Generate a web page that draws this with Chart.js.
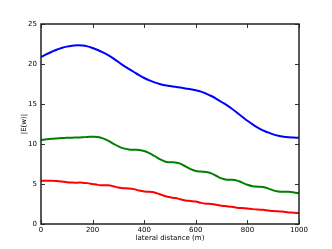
<!DOCTYPE html>
<html><head><meta charset="utf-8">
<script src="https://cdn.jsdelivr.net/npm/chart.js@4.4.0/dist/chart.umd.min.js"></script>
<style>html,body{margin:0;padding:0;background:#fff}#wrap{width:332px;height:249px}</style>
</head><body><div id="wrap"><canvas id="c" width="332" height="249"></canvas></div>
<script>
const distances = [0,20,40,60,80,100,120,140,160,180,200,220,240,260,280,300,320,340,360,380,400,420,440,460,480,500,520,540,560,580,600,620,640,660,680,700,720,740,760,780,800,820,840,860,880,900,920,940,960,980,1000];
const blueSeries = [20.85,21.2,21.5,21.78,22.0,22.17,22.28,22.33,22.3,22.2,22.0,21.75,21.45,21.1,20.7,20.25,19.8,19.4,19.0,18.6,18.25,17.95,17.7,17.5,17.35,17.25,17.15,17.05,16.95,16.85,16.72,16.55,16.3,16.0,15.65,15.25,14.85,14.4,13.9,13.4,12.9,12.45,12.05,11.7,11.45,11.2,11.02,10.9,10.83,10.8,10.78];
const greenSeries = [10.5,10.58,10.65,10.7,10.74,10.77,10.79,10.81,10.84,10.88,10.92,10.88,10.7,10.42,10.05,9.7,9.45,9.32,9.28,9.25,9.12,8.85,8.5,8.12,7.82,7.72,7.7,7.55,7.2,6.85,6.62,6.55,6.5,6.32,6.0,5.7,5.53,5.52,5.42,5.18,4.9,4.72,4.67,4.62,4.45,4.2,4.05,4.03,4.02,3.95,3.85];
const redSeries = [5.4,5.41,5.4,5.37,5.31,5.23,5.18,5.17,5.17,5.11,5.0,4.89,4.85,4.83,4.72,4.56,4.47,4.45,4.36,4.18,4.06,4.03,3.93,3.72,3.5,3.34,3.24,3.1,2.95,2.88,2.8,2.64,2.54,2.5,2.4,2.28,2.22,2.15,2.04,1.99,1.95,1.86,1.8,1.78,1.7,1.62,1.6,1.53,1.45,1.42,1.36];
const xTicks = [0,200,400,600,800,1000];
const yTicks = [0,5,10,15,20,25];
const xTitle = 'lateral distance (m)';
const yTitle = '|E(w)|';

const FONT = {family: 'DejaVu Sans', size: 7};

const frame = {
  id: 'frame',
  afterDraw(chart) {
    const {ctx, chartArea: a, scales} = chart;
    ctx.save();
    ctx.strokeStyle = '#333';
    ctx.lineWidth = 1;
    ctx.beginPath();
    xTicks.forEach(v => {
      const px = Math.round(scales.x.getPixelForValue(v)) + 0.5;
      ctx.moveTo(px, a.bottom); ctx.lineTo(px, a.bottom - 4);
      ctx.moveTo(px, a.top); ctx.lineTo(px, a.top + 4);
    });
    yTicks.forEach(v => {
      const py = Math.round(scales.y.getPixelForValue(v)) + 0.5;
      ctx.moveTo(a.left, py); ctx.lineTo(a.left + 4, py);
      ctx.moveTo(a.right, py); ctx.lineTo(a.right - 4, py);
    });
    ctx.stroke();
    ctx.lineWidth = 1.5;
    ctx.strokeStyle = '#222';
    ctx.strokeRect(Math.round(a.left), Math.round(a.top), Math.round(a.right - a.left), Math.round(a.bottom - a.top));
    ctx.restore();
  }
};

const mk = (data, color) => ({
  data: distances.map((d, i) => ({x: d, y: data[i]})),
  borderColor: color, borderWidth: 2, pointRadius: 0, fill: false,
  tension: 0.4, clip: false
});

new Chart(document.getElementById('c'), {
  type: 'line',
  data: {datasets: [mk(blueSeries, '#0000ff'), mk(greenSeries, '#008000'), mk(redSeries, '#ff0000')]},
  options: {
    responsive: false, animation: false, devicePixelRatio: 1,
    layout: {padding: {left: 0, top: 24, right: 33, bottom: 0}},
    plugins: {legend: {display: false}, tooltip: {enabled: false}},
    scales: {
      x: {
        type: 'linear', min: 0, max: 1000,
        afterBuildTicks: s => { s.ticks = xTicks.map(v => ({value: v})); },
        afterFit: s => { s.height = 25; },
        grid: {display: false, drawTicks: false}, border: {display: false},
        ticks: {color: '#000', font: FONT, padding: 2, maxRotation: 0, callback: v => String(v)},
        title: {display: true, text: xTitle, color: '#000', font: FONT, padding: {top: 0, bottom: 7}}
      },
      y: {
        min: 0, max: 25,
        afterBuildTicks: s => { s.ticks = yTicks.map(v => ({value: v})); },
        afterFit: s => { s.width = 41; },
        grid: {display: false, drawTicks: false}, border: {display: false},
        ticks: {color: '#000', font: FONT, padding: 4, callback: v => String(v)},
        title: {display: true, text: yTitle, color: '#000', font: FONT, padding: {top: 20, bottom: 0}}
      }
    }
  },
  plugins: [frame]
});
</script></body></html>
